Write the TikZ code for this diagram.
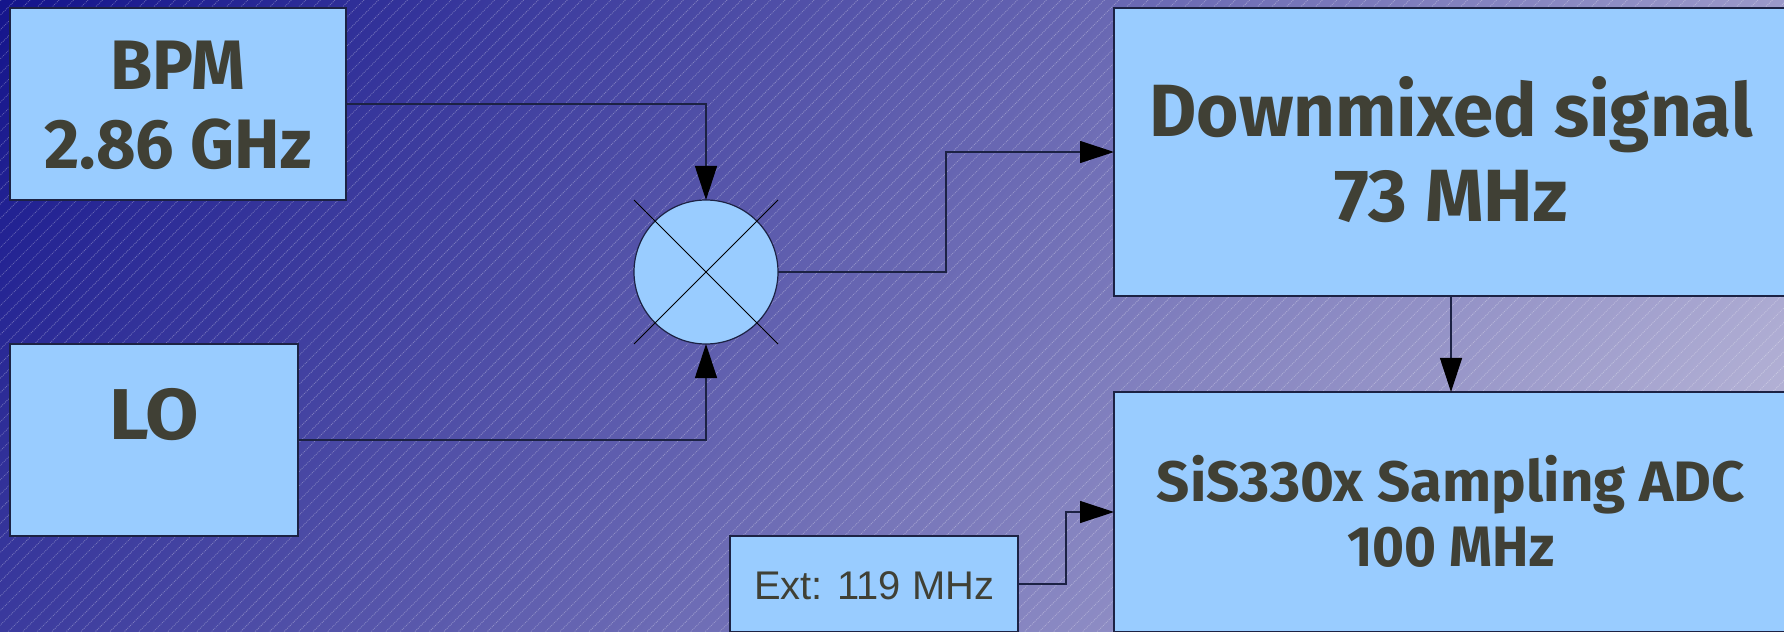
\documentclass[tikz,border=0pt]{standalone}
\usepackage{fontspec}
\usepackage{graphicx}
\usetikzlibrary{arrows.meta}
\setmainfont{Liberation Sans}
\newfontfamily\boldlabel{Fira Sans}
\definecolor{bgA}{RGB}{21,21,140}
\definecolor{bgB}{RGB}{192,190,219}
\definecolor{boxfill}{HTML}{99CCFF}
\definecolor{boxline}{HTML}{1C2244}
\definecolor{txt}{HTML}{404035}
\pgfdeclarehorizontalshading{bgshade}{100bp}{color(0bp)=(bgA); color(38.84bp)=(bgA); color(61.16bp)=(bgB); color(100bp)=(bgB)}
% one line of text, of given width, with its baseline dy above the centre of its node
\newcommand{\txtline}[4]{\makebox[0pt]{\raisebox{#1}[0pt][0pt]{\resizebox{#2}{\height}{\fontsize{#3bp}{#3bp}\selectfont\boldlabel\bfseries #4}}}}
\newcommand{\plainline}[4]{\makebox[0pt]{\raisebox{#1}[0pt][0pt]{\resizebox{#2}{\height}{\fontsize{#3bp}{#3bp}\selectfont #4}}}}
\tikzset{
  x=1bp,y=-1bp,
  blockbox/.style={draw=boxline,line width=1.2bp,fill=boxfill,inner sep=0pt,outer sep=0pt,text=txt},
  conn/.style={draw=boxline,line width=1.2bp},
  tipped/.style={conn,-{Triangle[length=34bp,width=22bp,fill=black,color=black]}},
  crossline/.style={draw=black,line width=1bp},
  hatch/.style={draw=white,line width=.8bp,opacity=.3,dash pattern=on 1bp off 1bp}
}
\begin{document}
\begin{tikzpicture}
\useasboundingbox (0,0) rectangle (1784,632);
\begin{scope}
  \clip (0,0) rectangle (1784,632);
  \path[shading=bgshade,shading angle=-38.7] (-1108,-1684) rectangle (2892,2316);
  \foreach \k in {0,...,167}{
    \pgfmathsetmacro{\s}{1.0+14.52*\k}
    \draw[hatch] (\s,0) -- (\s-640,640);
  }
\end{scope}
\node[blockbox,minimum width=336bp,minimum height=192bp] (bpm) at (178,104)
  {\txtline{14bp}{135bp}{70}{BPM}\txtline{-65bp}{267bp}{70}{2.86 GHz}};
\node[blockbox,minimum width=288bp,minimum height=192bp] (lo) at (154,440)
  {\txtline{1bp}{90bp}{72}{LO}};
\node[blockbox,minimum width=674bp,minimum height=288bp] (down) at (1451,152)
  {\txtline{15bp}{603bp}{74}{Downmixed signal}\txtline{-70bp}{233bp}{74}{73 MHz}};
\node[blockbox,minimum width=674bp,minimum height=240bp] (sis) at (1451,512)
  {\txtline{11bp}{588bp}{57}{SiS330x Sampling ADC}\txtline{-54bp}{207bp}{57}{100 MHz}};
\node[blockbox,minimum width=288bp,minimum height=96bp] (ext) at (874,584)
  {\plainline{-15bp}{240bp}{40}{Ext: 119 MHz}};
\node[blockbox,circle,minimum size=144bp] (mix) at (706,272) {};
\coordinate (mixnw) at (634,200);
\coordinate (mixne) at (778,200);
\coordinate (mixsw) at (634,344);
\coordinate (mixse) at (778,344);
\draw[crossline] (mixnw) -- (mixse);
\draw[crossline] (mixne) -- (mixsw);
\coordinate (bendone) at (946,272);
\coordinate (bendtwo) at (1066,584);
\draw[tipped] (bpm.east) -| (mix.north);
\draw[tipped] (lo.east) -| (mix.south);
\draw[tipped] (mix.east) -- (bendone) |- (down.west);
\draw[tipped] (down.south) -- (sis.north);
\draw[tipped] (ext.east) -- (bendtwo) |- (sis.west);
\end{tikzpicture}
\end{document}
